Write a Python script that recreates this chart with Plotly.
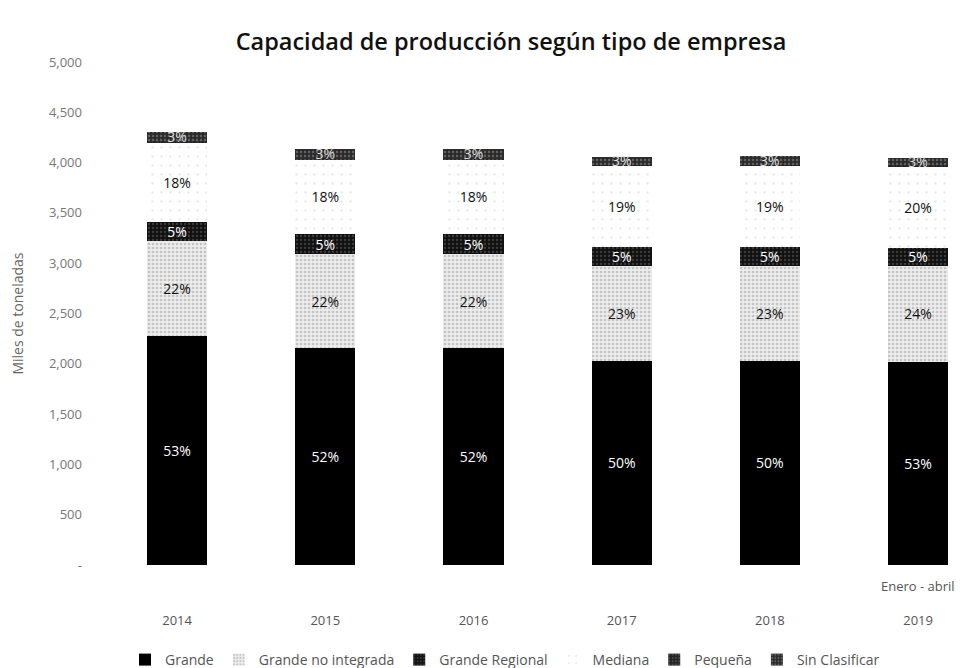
import plotly.graph_objects as go

years = ["2014", "2015", "2016", "2017", "2018", "2019"]
grande = [2275, 2155, 2155, 2030, 2030, 2020]
grande_no_integrada = [945, 935, 935, 945, 945, 955]
grande_regional = [190, 200, 200, 190, 190, 180]
mediana = [785, 740, 740, 805, 805, 805]
pequena = [10, 10, 10, 10, 10, 10]
sin_clasificar = [100, 100, 100, 80, 90, 80]

lbl_grande = ["53%", "52%", "52%", "50%", "50%", "53%"]
lbl_gni = ["22%", "22%", "22%", "23%", "23%", "24%"]
lbl_gr = ["5%", "5%", "5%", "5%", "5%", "5%"]
lbl_mediana = ["18%", "18%", "18%", "19%", "19%", "20%"]
lbl_sin = ["3%", "3%", "3%", "3%", "3%", "3%"]

ytick_vals = [0, 500, 1000, 1500, 2000, 2500, 3000, 3500, 4000, 4500, 5000]
ytick_text = ["-", "500", "1,000", "1,500", "2,000", "2,500", "3,000", "3,500", "4,000", "4,500", "5,000"]

FONT = "Open Sans"
W = 0.405
# the page body adds an 8px offset; figure is sized to fill the rest of the window
FW, FH = 959, 660

fig = go.Figure()

def add(name, vals, labels, color, txtcolor, pattern=None):
    marker = dict(color=color, line=dict(width=0))
    if pattern:
        marker["pattern"] = pattern
    fig.add_trace(go.Bar(
        name=name, x=years, y=vals, width=W,
        text=labels, textposition="inside" if labels else "none",
        insidetextanchor="middle",
        textfont=dict(color=txtcolor, size=14, family=FONT),
        marker=marker, hoverinfo="skip",
    ))

add("Grande", grande, lbl_grande, "#000000", "#ffffff")
add("Grande no integrada", grande_no_integrada, lbl_gni, "#e8e8e8", "#111111",
    dict(shape=".", fgcolor="#9a9a9a", bgcolor="#ececec", size=4, solidity=0.35))
add("Grande Regional", grande_regional, lbl_gr, "#111111", "#ffffff",
    dict(shape=".", fgcolor="#6a6a6a", bgcolor="#111111", size=4, solidity=0.25))
add("Mediana", mediana, lbl_mediana, "#ffffff", "#111111",
    dict(shape=".", fgcolor="#d0d0d0", bgcolor="#ffffff", size=9, solidity=0.05))
add("Pequeña", pequena, None, "#222222", "#ffffff",
    dict(shape=".", fgcolor="#777777", bgcolor="#222222", size=4, solidity=0.3))
add("Sin Clasificar", sin_clasificar, lbl_sin, "#333333", "#dddddd",
    dict(shape=".", fgcolor="#999999", bgcolor="#2a2a2a", size=4, solidity=0.3))

fig.update_layout(
    barmode="stack",
    width=FW, height=FH,
    paper_bgcolor="white", plot_bgcolor="white",
    margin=dict(l=95, r=0, t=54, b=103, autoexpand=False),
    font=dict(family=FONT, color="#666666", size=12),
    title=dict(text="Capacidad de producción según tipo de empresa",
               x=503 / FW, xanchor="center", xref="container",
               y=1 - 34 / FH, yanchor="middle", yref="container",
               font=dict(family=FONT, size=23.5, color="#111111", weight=600)),
    uniformtext=dict(minsize=14, mode="show"),
    showlegend=True,
    legend=dict(orientation="h", xref="container", yref="container",
                x=497 / FW, xanchor="center", y=8 / FH, yanchor="middle",
                font=dict(size=14, color="#555555", family=FONT),
                traceorder="normal", itemwidth=30),
)

fig.update_xaxes(
    type="category", range=[-0.5, 5.33],
    showgrid=False, showline=False, zeroline=False, ticks="",
    ticklabelstandoff=46,
    tickfont=dict(size=13, color="#555555", family=FONT),
)
fig.update_yaxes(
    range=[0, 5000], tickvals=ytick_vals, ticktext=ytick_text,
    showgrid=False, showline=False, zeroline=False, ticks="",
    ticklabelstandoff=20,
    tickfont=dict(size=13, color="#777777", family=FONT),
    title=dict(text="Miles de toneladas", standoff=26,
               font=dict(size=14, color="#666666", family=FONT)),
)

fig.add_annotation(
    text="Enero - abril", x=len(years) - 1, xref="x",
    y=-21 / 503, yref="paper", yanchor="middle", showarrow=False,
    font=dict(size=13, color="#555555", family=FONT),
)

fig.write_html("out.html")
